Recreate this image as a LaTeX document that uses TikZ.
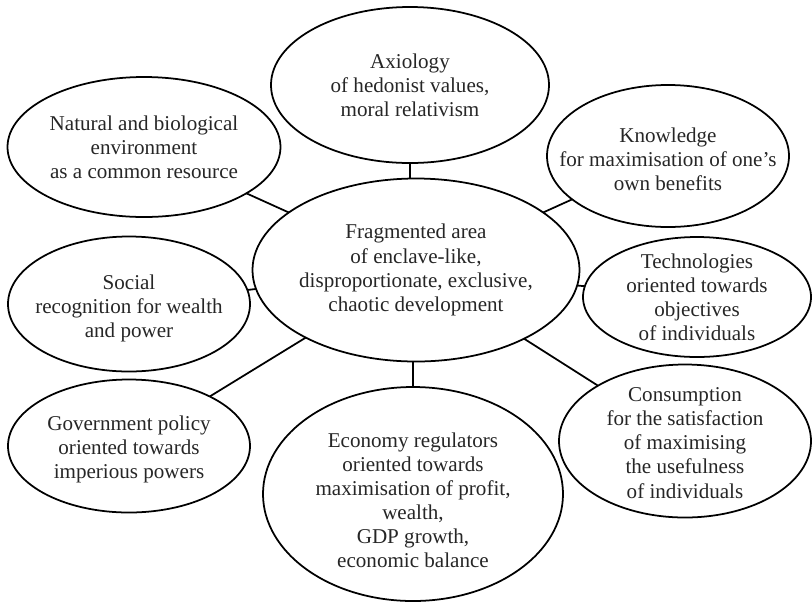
\documentclass[tikz,border=0pt]{standalone}
\usepackage{fontspec}
\setmainfont{Liberation Serif}
\usetikzlibrary{shapes.geometric}

\begin{document}
\begin{tikzpicture}[x=0.02cm,y=-0.02cm,bubble/.style={draw,ellipse,line width=1pt,inner sep=0pt,outer sep=0pt},every label/.style={align=center,font=\fontsize{12}{13.7}\selectfont,text=black!85},link/.style={line width=1pt}]
\useasboundingbox (0,0) rectangle (812,603);
\node [bubble,minimum width=327*0.02cm,minimum height=183*0.02cm,label=center:{Fragmented area\\of enclave-like,\\disproportionate, exclusive,\\chaotic development}] (centre) at (416,270) {};
\node [bubble,minimum width=278*0.02cm,minimum height=156*0.02cm,label=center:{Axiology\\of hedonist values,\\moral relativism}] (axiology) at (410,85) {};
\node [bubble,minimum width=273*0.02cm,minimum height=140*0.02cm,label=center:{Natural and biological\\environment\\as a common resource}] (nature) at (144,147) {};
\node [bubble,minimum width=242*0.02cm,minimum height=142*0.02cm,label={[yshift=-0.06cm]center:{Knowledge\\for maximisation of one's\\own benefits}}] (knowledge) at (668,156) {};
\node [bubble,minimum width=242*0.02cm,minimum height=135*0.02cm,label={[yshift=-0.08cm]center:{Social\\recognition for wealth\\and power}}] (social) at (129,304) {};
\node [bubble,minimum width=228*0.02cm,minimum height=120*0.02cm,label=center:{Technologies\\oriented towards\\objectives\\of individuals}] (techno) at (697,297) {};
\node [bubble,minimum width=242*0.02cm,minimum height=133*0.02cm,label={[yshift=-0.06cm]center:{Government policy\\oriented towards\\imperious powers}}] (govern) at (129,446) {};
\node [bubble,minimum width=300*0.02cm,minimum height=214*0.02cm,label={[yshift=-0.12cm]center:{Economy regulators\\oriented towards\\maximisation of profit,\\wealth,\\GDP growth,\\economic balance}}] (economy) at (413,494) {};
\node [bubble,minimum width=252*0.02cm,minimum height=153*0.02cm,label={[yshift=-0.04cm]center:{Consumption\\for the satisfaction\\of maximising\\the usefulness\\of individuals}}] (consume) at (685,441) {};
% short straight links to the centre
\draw [link] (axiology.south) -- (axiology.south |- centre.north);
\draw [link] (economy.north) -- (economy.north |- centre.south);
\foreach \n in {nature,knowledge,social,techno,govern,consume}
  \draw [link] (centre) -- (\n);
\end{tikzpicture}
\end{document}
